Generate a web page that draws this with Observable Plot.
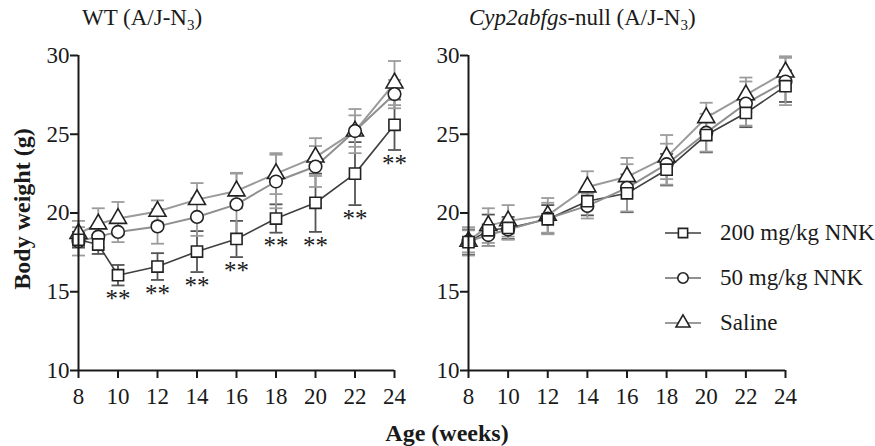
<!DOCTYPE html>
<html>
<head>
<meta charset="utf-8">
<script src="https://cdn.jsdelivr.net/npm/d3@7"></script>
<script src="https://cdn.jsdelivr.net/npm/@observablehq/plot@0.6"></script>
<style>
  html, body { margin: 0; padding: 0; background: #fff; }
  #wrap { position: relative; width: 875px; height: 446px; font-family: "Liberation Serif", "Times New Roman", Times, "DejaVu Serif", serif; color: #1a1a1a; overflow: hidden; }
  .panel { position: absolute; top: 0; }
  .title { position: absolute; top: 4px; font-size: 23px; white-space: nowrap; line-height: 28px; }
  .title sub { font-size: 15px; vertical-align: -5px; line-height: 0; }
  .ylab { position: absolute; left: 22px; top: 209px; transform: translate(-50%, -50%) rotate(-90deg); font-size: 24px; font-weight: bold; white-space: nowrap; }
  .xlab { position: absolute; left: 447px; top: 433px; transform: translate(-50%, -50%); font-size: 24px; font-weight: bold; white-space: nowrap; }
  .legend { position: absolute; left: 664px; top: 218px; font-size: 23px; }
  .legend .row { display: flex; align-items: center; height: 30px; margin-bottom: 15px; white-space: nowrap; }
  .legend svg { margin-right: 18px; }
  svg text { font-family: "Liberation Serif", "Times New Roman", Times, "DejaVu Serif", serif; }
</style>
</head>
<body>
<div id="wrap">
  <div class="title" style="left:82px">WT (A/J-N<sub>3</sub>)</div>
  <div class="title" style="left:469px"><i>Cyp2abfgs</i>-null (A/J-N<sub>3</sub>)</div>
  <div class="ylab">Body weight (g)</div>
  <div class="xlab">Age (weeks)</div>
  <div id="left" class="panel" style="left:0px"></div>
  <div id="right" class="panel" style="left:390px"></div>
  <div class="legend" id="legend"></div>
</div>
<script>
// ---- data ----
const weeks = [8, 9, 10, 12, 14, 16, 18, 20, 22, 24];
const xTicks = [8, 10, 12, 14, 16, 18, 20, 22, 24];
const yTicks = [10, 15, 20, 25, 30];
const seriesNames = ["200 mg/kg NNK", "50 mg/kg NNK", "Saline"];

// WT (A/J-N3)
const wt200   = [18.3, 18.0, 16.05, 16.6, 17.55, 18.35, 19.65, 20.65, 22.5, 25.6];
const wt200sd = [0.5, 0.6, 0.65, 0.85, 1.3, 1.15, 0.9, 1.85, 2.0, 1.6];
const wt50    = [18.2, 18.5, 18.8, 19.15, 19.75, 20.55, 22.0, 22.95, 25.2, 27.55];
const wt50sd  = [0.9, 0.7, 0.65, 1.1, 1.2, 2.0, 1.7, 1.3, 1.0, 0.9];
const wtSal   = [18.7, 19.3, 19.65, 20.1, 20.85, 21.4, 22.5, 23.55, 25.2, 28.25];
const wtSalsd = [0.8, 1.0, 1.05, 0.7, 1.05, 1.1, 1.3, 1.2, 1.4, 1.4];
const starWeeks = [10, 12, 14, 16, 18, 20, 22, 24];
const starLabel = "**";

// Cyp2abfgs-null (A/J-N3)
const ko200   = [18.15, 18.9, 19.05, 19.6, 20.75, 21.25, 22.75, 24.95, 26.35, 28.05];
const ko200sd = [0.8, 1.0, 0.7, 0.9, 0.9, 1.2, 1.0, 1.1, 0.9, 1.0];
const ko50    = [18.2, 18.6, 18.95, 19.65, 20.45, 21.6, 23.1, 25.1, 26.95, 28.35];
const ko50sd  = [0.7, 0.7, 0.65, 1.0, 0.8, 1.5, 1.3, 1.2, 1.4, 1.5];
const koSal   = [18.2, 19.2, 19.5, 19.85, 21.65, 22.3, 23.55, 26.05, 27.5, 28.95];
const koSalsd = [0.9, 1.1, 1.0, 1.1, 1.0, 1.2, 1.4, 0.95, 1.1, 1.0];

// ---- styles ----
const FONT = '"Liberation Serif", "Times New Roman", Times, "DejaVu Serif", serif';
const styles = {
  "200 mg/kg NNK": {symbol: "square",   line: "#3f3f3f", lw: 1.6, bar: "#555555"},
  "50 mg/kg NNK":  {symbol: "circle",   line: "#8f8f8f", lw: 2,   bar: "#9c9c9c"},
  "Saline":        {symbol: "triangle", line: "#9a9a9a", lw: 2,   bar: "#9c9c9c"}
};

function rows(name, means, sds) {
  return weeks.map((w, i) => ({series: name, week: w, mean: means[i], sd: sds[i]}));
}

const capSymbol = {
  draw(ctx) { ctx.moveTo(-6.5, 0); ctx.lineTo(6.5, 0); }
};

function panel(series, stars, width, marginRight) {
  const marks = [];
  for (const s of series) {
    const st = styles[s.name];
    marks.push(Plot.ruleX(s.data, {x: "week", y1: d => d.mean - d.sd, y2: d => d.mean + d.sd, stroke: st.bar, strokeWidth: 1.8}));
    marks.push(Plot.dot(s.data, {x: "week", y: d => d.mean + d.sd, symbol: capSymbol, fill: "none", stroke: st.bar, strokeWidth: 1.8}));
    marks.push(Plot.dot(s.data, {x: "week", y: d => d.mean - d.sd, symbol: capSymbol, fill: "none", stroke: st.bar, strokeWidth: 1.8}));
  }
  for (const s of series) {
    const st = styles[s.name];
    marks.push(Plot.line(s.data, {x: "week", y: "mean", stroke: st.line, strokeWidth: st.lw}));
  }
  for (const s of series.slice().reverse()) {
    const st = styles[s.name];
    marks.push(Plot.dot(s.data, {x: "week", y: "mean", symbol: st.symbol, r: 6.3, fill: "white", stroke: "#222", strokeWidth: 1.6}));
  }
  if (stars) {
    marks.push(Plot.text(stars, {x: "week", y: d => d.mean - d.sd, text: () => starLabel, lineAnchor: "top", dy: 4, fontSize: 25, fill: "#1a1a1a", fontFamily: FONT}));
  }
  marks.push(Plot.axisY({ticks: yTicks, tickSize: 8, tickPadding: 1, fontSize: 23, label: null, stroke: "#1a1a1a", strokeWidth: 2, fill: "#1a1a1a", fontFamily: FONT}));
  marks.push(Plot.axisX({ticks: xTicks, tickSize: 8, tickPadding: 9, fontSize: 23, label: null, stroke: "#1a1a1a", strokeWidth: 2, fill: "#1a1a1a", fontFamily: FONT}));
  marks.push(Plot.ruleX([8], {y1: 10, y2: 30, stroke: "#1a1a1a", strokeWidth: 2}));
  marks.push(Plot.ruleY([10], {x1: 8, x2: 24, stroke: "#1a1a1a", strokeWidth: 2}));
  return Plot.plot({
    width, height: 446,
    marginLeft: 78, marginRight, marginTop: 55, marginBottom: 76,
    x: {domain: [8, 24]},
    y: {domain: [10, 30]},
    style: {fontFamily: FONT, fontSize: "23px", background: "transparent", overflow: "visible"},
    marks
  });
}

const wtSeries = [
  {name: seriesNames[0], data: rows(seriesNames[0], wt200, wt200sd)},
  {name: seriesNames[1], data: rows(seriesNames[1], wt50, wt50sd)},
  {name: seriesNames[2], data: rows(seriesNames[2], wtSal, wtSalsd)}
];
const koSeries = [
  {name: seriesNames[0], data: rows(seriesNames[0], ko200, ko200sd)},
  {name: seriesNames[1], data: rows(seriesNames[1], ko50, ko50sd)},
  {name: seriesNames[2], data: rows(seriesNames[2], koSal, koSalsd)}
];
const starData = wtSeries[0].data.filter(d => starWeeks.includes(d.week));

document.getElementById("left").appendChild(panel(wtSeries, starData, 420, 26));
document.getElementById("right").appendChild(panel(koSeries, null, 485, 90));

const legend = document.getElementById("legend");
for (const name of seriesNames) {
  const st = styles[name];
  const row = document.createElement("div");
  row.className = "row";
  const svg = d3.create("svg").attr("width", 38).attr("height", 20);
  svg.append("line").attr("x1", 1).attr("x2", 37).attr("y1", 10).attr("y2", 10).attr("stroke", st.line).attr("stroke-width", st.lw);
  const sym = {square: d3.symbolSquare, circle: d3.symbolCircle, triangle: d3.symbolTriangle}[st.symbol];
  svg.append("path").attr("transform", "translate(19,10)").attr("d", d3.symbol(sym, 85)())
     .attr("fill", "white").attr("stroke", "#222").attr("stroke-width", 1.6);
  row.appendChild(svg.node());
  const span = document.createElement("span");
  span.textContent = name;
  row.appendChild(span);
  legend.appendChild(row);
}
</script>
</body>
</html>
